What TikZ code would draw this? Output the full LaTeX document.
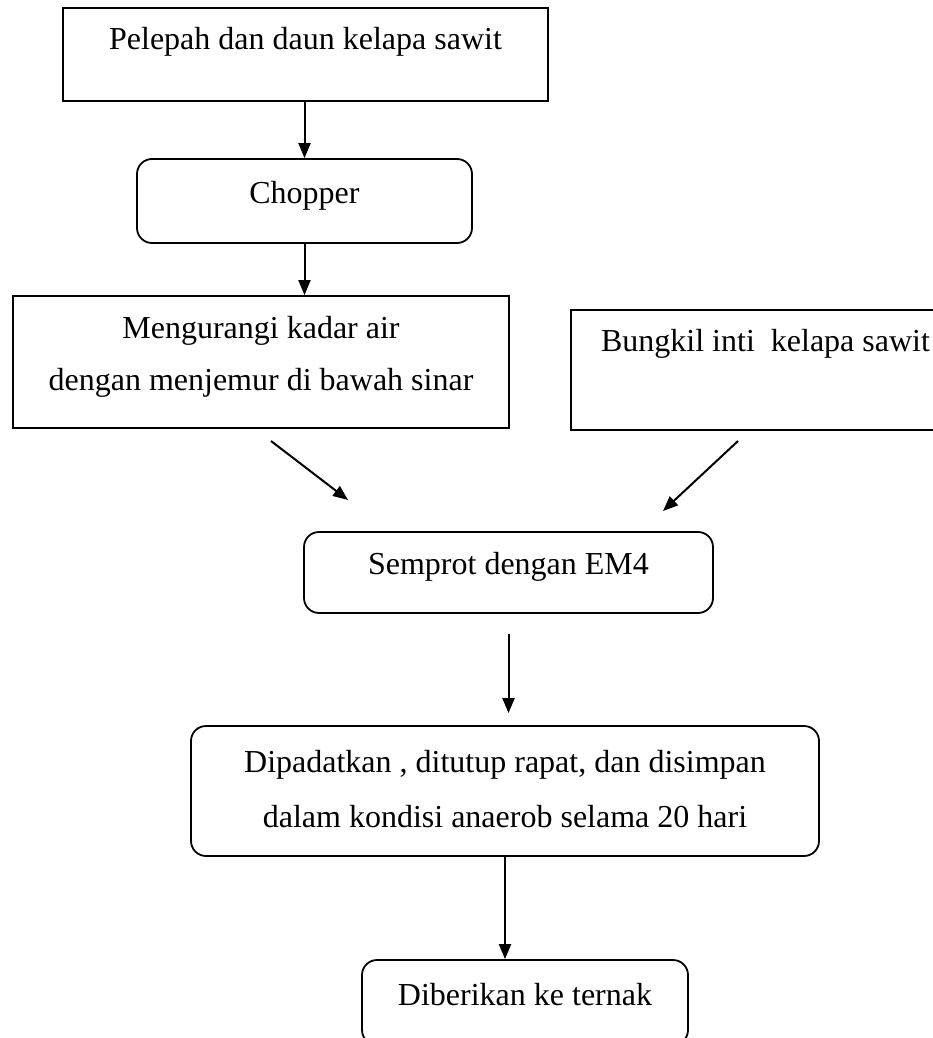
\documentclass[tikz,border=0pt]{standalone}
\usepackage{fontspec}
\setmainfont{Liberation Serif}
\usetikzlibrary{arrows.meta,positioning,calc}
\tikzset{
    plain-box/.style={
        rectangle,
        draw=black,
        line width=1.8pt,
        inner sep=0pt,
        align=center,
        font=\fontsize{32}{38}\selectfont
    },
    round-box/.style={
        plain-box,
        rounded corners=15pt
    },
    one-line/.style={
        text height=22pt
    },
    every edge/.style={
        draw,
        -{Triangle[length=15pt,width=12pt]},
        line width=2pt
    },
}

\begin{document}
\begin{tikzpicture}[x=1pt,y=-1pt]
        \clip (0,0) rectangle (933,1038);
        \node [plain-box,one-line,minimum width=485pt,minimum height=93pt,text depth=32pt] (B1) at (305.5,54.5) {Pelepah dan daun kelapa sawit};
        \node [round-box,one-line,minimum width=335pt,minimum height=84pt,text depth=18pt] (B2) at (304.5,201) {Chopper};
        \node [plain-box,minimum width=496pt,minimum height=132pt,text depth=18pt] (B3) at (261,362) {Mengurangi kadar air\\[14pt]dengan menjemur di bawah sinar};
        \node [plain-box,one-line,minimum width=389pt,minimum height=120pt,text depth=60pt] (B4) at (765.5,370) {Bungkil inti\ \ kelapa sawit};
        \node [round-box,one-line,minimum width=409pt,minimum height=81pt,text depth=19pt] (B5) at (508.5,572.5) {Semprot dengan EM4};
        \node [round-box,minimum width=628pt,minimum height=130pt,text depth=4pt] (B6) at (505,791) {Dipadatkan , ditutup rapat, dan disimpan\\[17pt]dalam kondisi anaerob selama 20 hari};
        \node [round-box,one-line,minimum width=326pt,minimum height=85pt,text depth=17pt] (B7) at (525,1002.5) {Diberikan ke ternak};
        \coordinate (L1) at (271,441);
        \coordinate (L2) at (348,500);
        \coordinate (R1) at (738,441);
        \coordinate (R2) at (663,511);
        \draw (B1.south -| B2.north) edge (B2.north);
        \draw (B2.south) edge (B2.south |- B3.north);
        \draw (L1) edge (L2);
        \draw (R1) edge (R2);
        \draw (B5.south) edge[shorten <=20pt,shorten >=12pt] (B5.south |- B6.north);
        \draw (B6.south) edge (B6.south |- B7.north);
    \end{tikzpicture}
\end{document}
